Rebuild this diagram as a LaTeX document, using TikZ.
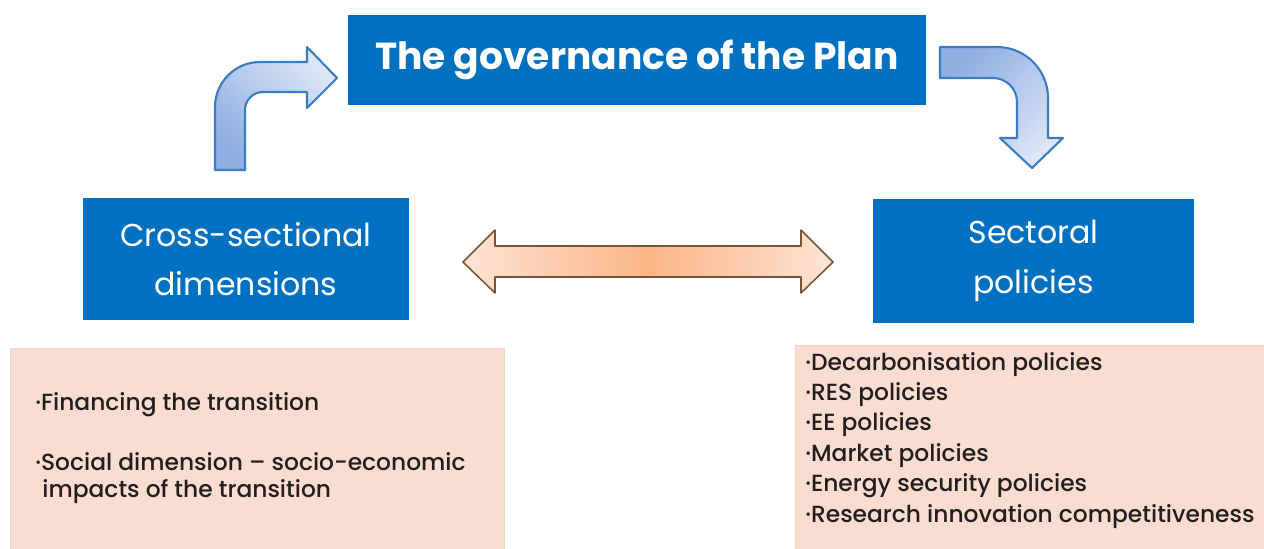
\documentclass[tikz,border=0pt]{standalone}
\usepackage{fontspec}
\setmainfont{Poppins}
\newfontfamily\notefont{Poppins Medium}
\usepackage{tikz}
\usetikzlibrary{positioning, calc}

\definecolor{planblue}{HTML}{0070C0}
\definecolor{notepink}{HTML}{FADCD1}
\definecolor{noteline}{HTML}{F3D2C6}
\definecolor{notetext}{HTML}{231F20}
\definecolor{bentdark}{HTML}{8FAEE2}
\definecolor{bentlight}{HTML}{DDE7F7}
\definecolor{bentline}{HTML}{3B7DC1}
\definecolor{swapedge}{HTML}{FDE4D5}
\definecolor{swapmid}{HTML}{FBB587}
\definecolor{swapline}{HTML}{7A5535}

\tikzset{
    bluebox/.style={fill=planblue, text=white, inner sep=0pt, align=center},
    notebox/.style={fill=notepink, draw=noteline, line width=0.5pt, inner sep=0pt},
    noteitem/.style={anchor=base west, inner sep=0pt, text=notetext,
        font=\notefont\fontsize{13.3}{16}\selectfont},
    bentarrow/.style={draw=bentline, line width=1.2pt, line join=round},
    swaparrow/.style={draw=swapline, line width=0.9pt, line join=round,
        left color=swapedge, right color=swapedge, middle color=swapmid}
}

\begin{document}
\begin{tikzpicture}[x=0.02cm, y=-0.02cm]
    \useasboundingbox (0,0) rectangle (1264,548);

    % blue boxes
    \node[bluebox, minimum width=11.56cm, minimum height=1.8cm,
        font=\fontsize{21.4}{24}\selectfont\bfseries] (gov) at (637,60)
        {The governance of the Plan};
    \node[bluebox, minimum width=6.52cm, minimum height=2.44cm,
        font=\fontsize{18}{28}\selectfont] (cross) at (246,259)
        {Cross-sectional\\dimensions};
    \node[bluebox, minimum width=6.42cm, minimum height=2.48cm,
        font=\fontsize{18}{28}\selectfont] (sect) at (1033.5,261)
        {Sectoral\\policies};

    % pink note boxes
    \node[notebox, anchor=north west, minimum width=9.88cm, minimum height=4.2cm]
        (crossnote) at (10,348) {};
    \node[notebox, anchor=north west, minimum width=9.5cm, minimum height=4.2cm]
        (sectnote) at (795,345) {};

    % bent arrows
    \draw[bentarrow, top color=bentlight, bottom color=bentdark, shading angle=-45]
        (215,170) -- (215,107) arc[start angle=180, end angle=270, radius=45]
        -- (307,62) -- (307,47) -- (337,78) -- (307,108) -- (307,92)
        -- (263,92) arc[start angle=270, end angle=180, radius=18]
        -- (245,170) -- cycle;
    \draw[bentarrow, top color=bentdark, bottom color=bentlight, shading angle=45]
        (940,47) -- (997,47) arc[start angle=270, end angle=360, radius=51]
        -- (1048,138) -- (1063,138) -- (1032,168) -- (1000,138) -- (1017,138)
        -- (1017,102) arc[start angle=0, end angle=-90, radius=24]
        -- (940,78) -- cycle;

    % two way arrow
    \draw[swaparrow]
        (463,262) -- (495,230) -- (495,246) -- (801,246) -- (801,230)
        -- (833,262) -- (801,293) -- (801,277) -- (495,277) -- (495,293)
        -- cycle;

    % items
    \node[noteitem] (fin) at (35,410) {·Financing the transition};
    \node[noteitem] (soc) at (35,470) {·Social dimension – socio-economic};
    \node[noteitem] (imp) at (42,497) {impacts of the transition};

    \foreach \i/\txt in {
        0/Decarbonisation policies,
        1/RES policies,
        2/EE policies,
        3/Market policies,
        4/Energy security policies,
        5/Research innovation competitiveness}{

        \node[noteitem] (pol\i) at (805,370+30.4*\i) {·\txt};
    }
\end{tikzpicture}
\end{document}
